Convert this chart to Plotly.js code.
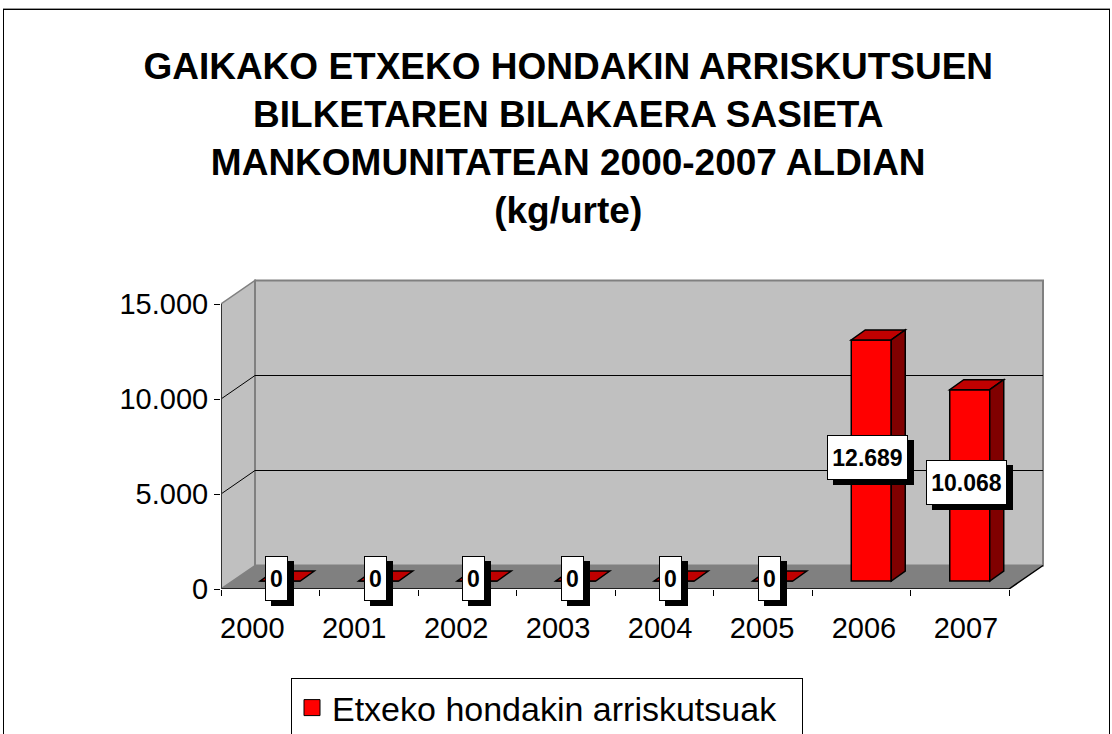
<!DOCTYPE html>
<html><head><meta charset="utf-8">
<script src="https://cdn.plot.ly/plotly-3.0.1.min.js"></script>
<style>
html,body{margin:0;padding:0;background:#fff;overflow:hidden;}
#chart{position:absolute;left:0;top:0;width:1112px;height:734px;}
#frame{position:absolute;left:3px;top:9px;width:1105px;height:800px;border:1px solid #000;pointer-events:none;box-shadow:0 -1px 0 #999;}
</style></head><body>
<div id="chart"></div><div id="frame"></div>
<script>
// ---- data ----
const years = ['2000','2001','2002','2003','2004','2005','2006','2007'];
const values = [0, 0, 0, 0, 0, 0, 12689, 10068];
const yTicks = [0, 5000, 10000, 15000];
const gridValues = [5000, 10000];
const seriesName = 'Etxeko hondakin arriskutsuak';
const titleLines = [
  'GAIKAKO ETXEKO HONDAKIN ARRISKUTSUEN',
  'BILKETAREN BILAKAERA SASIETA',
  'MANKOMUNITATEAN 2000-2007 ALDIAN',
  '(kg/urte)'
];

// ---- geometry / style ----
const FONT = 'Arial, "Liberation Sans", sans-serif';
const W = 1112, H = 734;
const M = {l: 221, r: 66, t: 279, b: 145, autoexpand: false};
const plotW = W - M.l - M.r, plotH = H - M.t - M.b;
const PX_PER_CAT = 98.5, PX_PER_VAL = 285 / 15000;
const X = px => px / PX_PER_CAT;
const Y = px => px / PX_PER_VAL;
const WALL_DX = X(34), WALL_DY = Y(23.5);
const BAR_W = X(40), BAR_OX = X(10), BAR_BASE = Y(8), BAR_DX = X(14), BAR_DY = Y(10);
const LABEL_SPREAD = 1.035, LABEL_SHIFT = X(-18);   // perspective of the category labels
const xLo = -0.5, xHi = years.length - 0.5;
const yTop = yTicks[yTicks.length - 1];
const idx = years.map((_, i) => i);
const fmt = v => String(v).replace(/\B(?=(\d{3})+(?!\d))/g, '.');
const LABEL_SIZE = 23;
const ctx = document.createElement('canvas').getContext('2d');
ctx.font = 'bold ' + LABEL_SIZE + 'px Arial, "Liberation Sans", sans-serif';
const textW = s => Math.ceil(ctx.measureText(s).width);

const shapes = [];
const P = pts => 'M' + pts.map(p => p[0] + ',' + p[1]).join(' L') + ' Z';
const L = pts => 'M' + pts.map(p => p[0] + ',' + p[1]).join(' L');
const base = {xref: 'x', yref: 'y', layer: 'below'};
// floor
shapes.push(Object.assign({}, base, {type: 'path', path: P([[xLo,0],[xHi,0],[xHi+WALL_DX,WALL_DY],[xLo+WALL_DX,WALL_DY]]), fillcolor: '#808080', line: {width: 0}}));
// side wall
shapes.push(Object.assign({}, base, {type: 'path', path: P([[xLo,0],[xLo,yTop],[xLo+WALL_DX,yTop+WALL_DY],[xLo+WALL_DX,WALL_DY]]), fillcolor: '#c0c0c0', line: {color: '#808080', width: 1.5}}));
// back wall
shapes.push(Object.assign({}, base, {type: 'rect', x0: xLo+WALL_DX, x1: xHi+WALL_DX, y0: WALL_DY, y1: yTop+WALL_DY, fillcolor: '#c0c0c0', line: {color: '#808080', width: 2}}));
// floor edges
shapes.push(Object.assign({}, base, {type: 'path', path: L([[xLo,0],[xHi,0],[xHi+WALL_DX,WALL_DY]]), line: {color: '#000', width: 1.5}}));
// gridlines
gridValues.forEach(v => {
  shapes.push(Object.assign({}, base, {type: 'path', path: L([[xLo+WALL_DX,v+WALL_DY],[xHi+WALL_DX,v+WALL_DY]]), line: {color: '#000', width: 1}}));
  shapes.push(Object.assign({}, base, {type: 'path', path: L([[xLo,v],[xLo+WALL_DX,v+WALL_DY]]), line: {color: '#000', width: 1}}));
});
// y axis line
shapes.push(Object.assign({}, base, {type: 'path', path: L([[xLo,0],[xLo,yTop]]), line: {color: '#333', width: 2}}));

// bar top and side faces + value labels
const annotations = [];
values.forEach((v, i) => {
  const xl = i + BAR_OX - BAR_W/2, xr = xl + BAR_W, b = BAR_BASE, t = b + v;
  shapes.push({xref:'x', yref:'y', layer:'above', type:'path', path: P([[xl,t],[xr,t],[xr+BAR_DX,t+BAR_DY],[xl+BAR_DX,t+BAR_DY]]), fillcolor:'#c00000', line:{color:'#000', width:1.5}});
  if (v > 0) {
    shapes.push({xref:'x', yref:'y', layer:'above', type:'path', path: P([[xr,b],[xr,t],[xr+BAR_DX,t+BAR_DY],[xr+BAR_DX,b+BAR_DY]]), fillcolor:'#800000', line:{color:'#000', width:1.5}});
  }
  const label = fmt(v);
  const common = {x: i + BAR_OX - X(3.5), y: b + v/2 + Y(3), xref:'x', yref:'y', showarrow:false,
    xanchor:'center', yanchor:'middle', borderwidth:1, borderpad:4, height:35, width: textW(label),
    font:{family:FONT, size:LABEL_SIZE, weight:'bold', color:'#000'}};
  // drop shadow (empty box)
  annotations.push(Object.assign({}, common, {text:' ', xshift:6, yshift:-5, bgcolor:'#000', bordercolor:'#000'}));
  annotations.push(Object.assign({}, common, {text: label, bgcolor:'#fff', bordercolor:'#000'}));
});

const traces = [
  {type:'bar', x: idx.map(i => i + BAR_OX), y: values, base: BAR_BASE, width: BAR_W, name: seriesName,
   marker:{color:'#ff0000', line:{color:'#000', width:1.5}}, showlegend:false, hoverinfo:'skip'},
  {type:'scatter', mode:'markers', x:[null], y:[null], name: seriesName,
   marker:{symbol:'square', size:22, color:'#ff0000', line:{color:'#000', width:1}}, hoverinfo:'skip'}
];

const layout = {
  width: W, height: H, margin: M,
  paper_bgcolor:'#fff', plot_bgcolor:'rgba(0,0,0,0)',
  separators: ',.',
  font:{family:FONT, color:'#000'},
  title:{
    text: titleLines.join('<br>'),
    font:{family:FONT, size:37, weight:'bold', color:'#000'},
    x: 0.511, xref:'container', xanchor:'center', y: 1 - 79/H, yref:'container', yanchor:'top'
  },
  xaxis:{range:[xLo, xLo + plotW/PX_PER_CAT], tickmode:'array',
    tickvals: idx.map(i => i * LABEL_SPREAD + LABEL_SHIFT), ticktext: years, ticks:'',
    showgrid:false, zeroline:false, showline:false, tickfont:{family:FONT, size:29, color:'#000'},
    ticklabelstandoff: 19,
    minor:{tickmode:'array', tickvals: idx.map(i => i - 0.5).concat([xHi]), ticks:'outside', ticklen:6, tickcolor:'#000', tickwidth:1, showgrid:false},
    fixedrange:true},
  yaxis:{range:[0, plotH/PX_PER_VAL], tickmode:'array', tickvals: yTicks, tickformat:',', ticks:'outside', ticklen:6,
    tickcolor:'#000', tickwidth:1, showgrid:false, zeroline:false, showline:false,
    tickfont:{family:FONT, size:29, color:'#000'}, fixedrange:true},
  showlegend:true,
  legend:{x:(291 - M.l)/plotW, y:(H - M.b - 678)/plotH, xanchor:'left', yanchor:'top', orientation:'h',
    entrywidth: 465, entrywidthmode:'pixels',
    bordercolor:'#000', borderwidth:1, bgcolor:'#fff', font:{family:FONT, size:34, color:'#000'}},
  shapes: shapes,
  annotations: annotations,
  bargap: 0
};
Plotly.newPlot('chart', traces, layout, {displayModeBar:false, staticPlot:true});
</script>
</body></html>
